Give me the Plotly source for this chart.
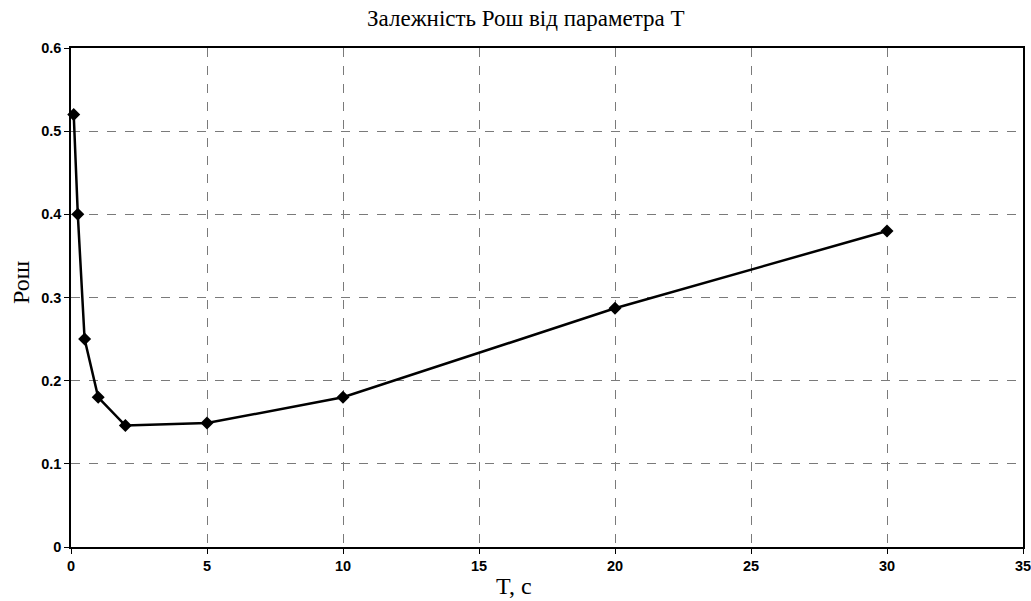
import plotly.graph_objects as go

T_values = [0.1, 0.25, 0.5, 1, 2, 5, 10, 20, 30]
P_values = [0.52, 0.40, 0.25, 0.18, 0.146, 0.149, 0.18, 0.287, 0.38]
x_ticks = [0, 5, 10, 15, 20, 25, 30, 35]
y_ticks = [0, 0.1, 0.2, 0.3, 0.4, 0.5, 0.6]
y_tick_text = ["0", "0.1", "0.2", "0.3", "0.4", "0.5", "0.6"]

fig = go.Figure()
fig.add_trace(go.Scatter(
    x=T_values, y=P_values, mode="lines+markers",
    line=dict(color="black", width=2.5),
    marker=dict(symbol="diamond", size=10, color="black"),
    showlegend=False, cliponaxis=False,
))

axis_common = dict(
    showline=True, linecolor="black", linewidth=1.5, mirror=True,
    showgrid=True, gridcolor="#7a7a7a", griddash="dash", gridwidth=1,
    ticks="outside", ticklen=5, tickcolor="black", zeroline=False,
    automargin=False, ticklabeloverflow="allow",
    tickfont=dict(family="Liberation Sans, Arial", size=14.5, color="black", weight="bold"),
)

serif = dict(family="Liberation Serif, Times New Roman", size=24, color="black")

fig.update_layout(
    width=1031, height=601,
    margin=dict(l=71, r=8, t=48, b=54),
    paper_bgcolor="white", plot_bgcolor="white",
    title=dict(text="Залежність Рош від параметра T", x=0.51, xanchor="center",
               y=0.970, yanchor="middle",
               font=dict(family="Liberation Serif, Times New Roman", size=23, color="black")),
    xaxis=dict(range=[0, 35], tickvals=x_ticks, ticktext=[str(v) for v in x_ticks],
               **axis_common),
    yaxis=dict(range=[0, 0.6], tickvals=y_ticks, ticktext=y_tick_text,
               **axis_common),
    annotations=[
        dict(text="T, с", xref="paper", yref="paper", x=0.465, y=-0.079,
             xanchor="center", yanchor="middle", showarrow=False, font=serif),
        dict(text="Рош", xref="paper", yref="paper", x=-0.0525, y=0.531,
             xanchor="center", yanchor="middle", textangle=-90, showarrow=False, font=serif),
    ],
)

fig.write_html("out.html", config={"displayModeBar": False},
               post_script="document.body.style.margin='0';document.body.style.overflow='hidden';")
